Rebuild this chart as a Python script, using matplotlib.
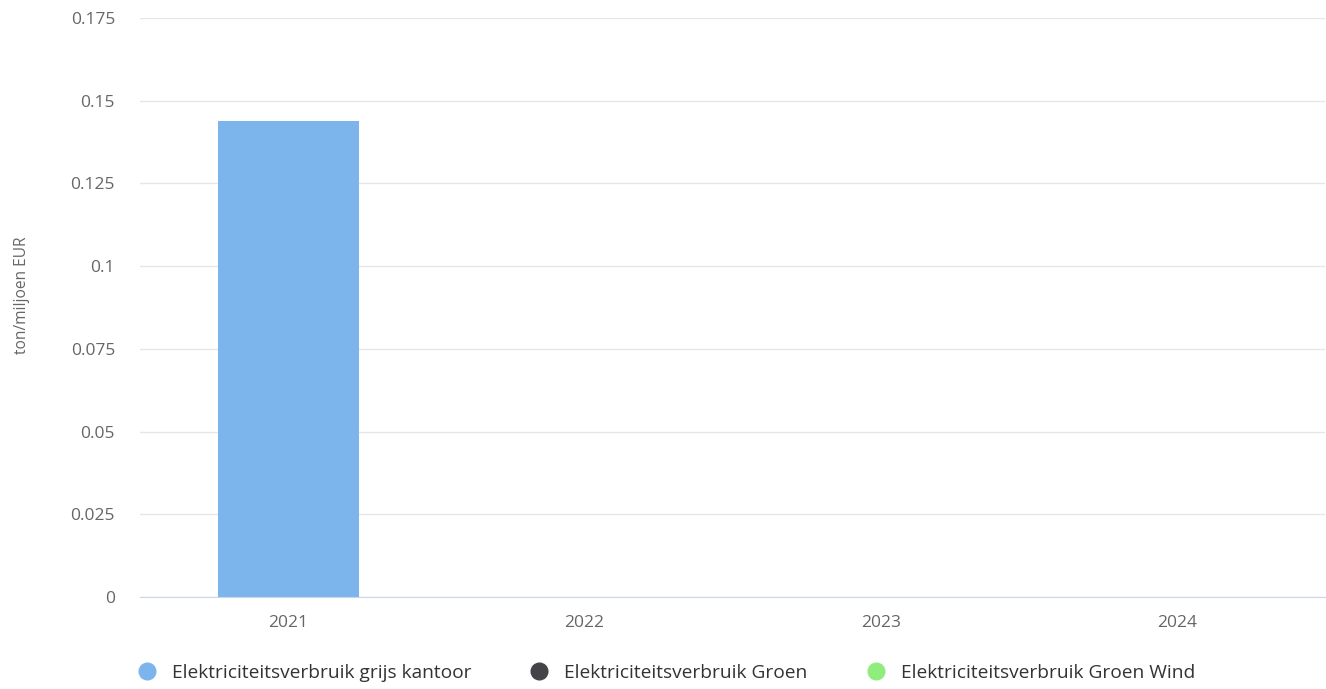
import numpy as np
import matplotlib.pyplot as plt
from matplotlib.lines import Line2D

years = ['2021', '2022', '2023', '2024']
grijs_kantoor = [0.1438, 0, 0, 0]
groen = [0, 0, 0, 0]
groen_wind = [0, 0, 0, 0]
series_names = ['Elektriciteitsverbruik grijs kantoor',
                'Elektriciteitsverbruik Groen',
                'Elektriciteitsverbruik Groen Wind']
colors = ['#7cb5ec', '#434348', '#90ed7d']
yticks = [0, 0.025, 0.05, 0.075, 0.1, 0.125, 0.15, 0.175]
ytick_labels = ['0', '0.025', '0.05', '0.075', '0.1', '0.125', '0.15', '0.175']

plt.rcParams['font.family'] = ['Open Sans', 'DejaVu Sans']

W, H = 1326, 689
fig = plt.figure(figsize=(W / 100, H / 100), dpi=100)
ax = fig.add_axes([140 / W, 1 - 597 / H, (1325 - 140) / W, (597 - 18) / H])

x = np.arange(len(years))
for vals, c in zip([grijs_kantoor, groen, groen_wind], colors):
    ax.bar(x, vals, width=0.476, color=c, zorder=3)

ax.set_xlim(-0.5, len(years) - 0.5)
ax.set_ylim(0, 0.175)
ax.set_yticks(yticks)
ax.set_yticklabels(ytick_labels)
ax.set_xticks(x)
ax.set_xticklabels(years)
ax.tick_params(axis='both', length=0, colors='#666666', labelsize=12.5)
ax.tick_params(axis='y', pad=18)
ax.tick_params(axis='x', pad=13)
ax.grid(axis='y', color='#e6e6e6', linewidth=1, zorder=0)
for s in ['top', 'right', 'left']:
    ax.spines[s].set_visible(False)
ax.spines['bottom'].set_color('#ccd6eb')
ax.spines['bottom'].set_zorder(4)

fig.text(22 / W, 1 - 295 / H, 'ton/miljoen EUR', rotation=90, color='#666666',
         fontsize=11.2, ha='center', va='center')

handles = [Line2D([0], [0], marker='o', linestyle='', markersize=12,
                  markerfacecolor=c, markeredgecolor=c) for c in colors]
fig.legend(handles, series_names, loc='center left',
           bbox_to_anchor=(137 / W, 1 - 673 / H), ncol=3, frameon=False,
           fontsize=13.8, labelcolor='#333333', handletextpad=0.8,
           columnspacing=3.07, handlelength=1.0, borderpad=0,
           borderaxespad=0)

fig.savefig('out.png', dpi=100)
